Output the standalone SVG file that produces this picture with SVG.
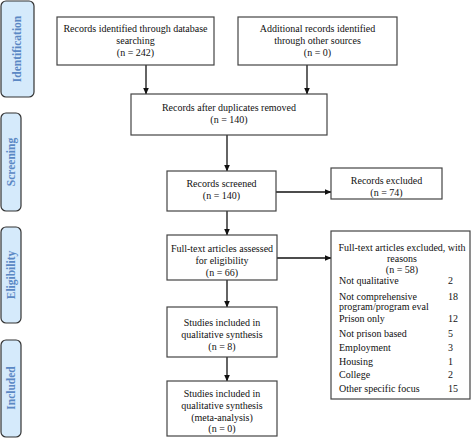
<svg xmlns="http://www.w3.org/2000/svg" width="473" height="446" viewBox="0 0 473 446">
<defs>
<marker id="ah" markerWidth="7" markerHeight="6" refX="6.5" refY="3" orient="auto" markerUnits="userSpaceOnUse">
<path d="M0,0 L7,3 L0,6 Z" fill="#111"/>
</marker>
<style>
.box{fill:#fff;stroke:#444;stroke-width:1.2}
.stage{fill:#d5eafb;stroke:#333;stroke-width:1.2}
.st{font-family:"Liberation Serif","Times New Roman",serif;font-weight:bold;font-size:11.5px;fill:#5b88c4;text-anchor:middle}
.t{font-family:"Liberation Serif","Times New Roman",serif;font-size:10px;fill:#111;text-anchor:middle}
.l{font-family:"Liberation Serif","Times New Roman",serif;font-size:10px;fill:#111}
.c{stroke:#111;stroke-width:1.3;fill:none;marker-end:url(#ah)}
</style>
</defs>
<rect width="473" height="446" fill="#fff"/>
<g id="stage-identification"><rect class="stage" x="1" y="1" width="33" height="96" rx="5"/><text class="st" transform="translate(21,49) rotate(-90)">Identification</text></g>
<g id="stage-screening"><rect class="stage" x="1" y="113" width="20" height="98" rx="5"/><text class="st" transform="translate(15,162) rotate(-90)">Screening</text></g>
<g id="stage-eligibility"><rect class="stage" x="1" y="227" width="20" height="96" rx="5"/><text class="st" transform="translate(15,275) rotate(-90)">Eligibility</text></g>
<g id="stage-included"><rect class="stage" x="1" y="340" width="20" height="97" rx="5"/><text class="st" transform="translate(15,388) rotate(-90)">Included</text></g>

<g id="connectors">
<line class="c" x1="146" y1="65" x2="146" y2="94"/>
<line class="c" x1="307" y1="65" x2="307" y2="94"/>
<line class="c" x1="227" y1="135" x2="227" y2="171"/>
<line class="c" x1="276" y1="192" x2="331" y2="192"/>
<line class="c" x1="227" y1="211" x2="227" y2="235"/>
<line class="c" x1="277" y1="258" x2="331" y2="258"/>
<line class="c" x1="227" y1="280" x2="227" y2="307"/>
<line class="c" x1="227" y1="357" x2="227" y2="381"/>
</g>

<g id="n1"><rect class="box" x="57" y="17" width="157" height="48"/>
<text class="t" x="135.5" y="32">Records identified through database</text>
<text class="t" x="135.5" y="44">searching</text>
<text class="t" x="135.5" y="56">(n =  242)</text></g>
<g id="n2"><rect class="box" x="238" y="17" width="159" height="48"/>
<text class="t" x="317.5" y="32">Additional records identified</text>
<text class="t" x="317.5" y="44">through other sources</text>
<text class="t" x="317.5" y="56">(n = 0)</text></g>
<g id="n3"><rect class="box" x="131" y="94" width="196" height="41"/>
<text class="t" x="229" y="111">Records after duplicates removed</text>
<text class="t" x="229" y="123">(n = 140)</text></g>
<g id="n4"><rect class="box" x="167" y="171" width="109" height="40"/>
<text class="t" x="221.5" y="187">Records screened</text>
<text class="t" x="221.5" y="199">(n = 140)</text></g>
<g id="n5"><rect class="box" x="331" y="168" width="111" height="31"/>
<text class="t" x="386.5" y="184">Records excluded</text>
<text class="t" x="386.5" y="196">(n = 74)</text></g>
<g id="n6"><rect class="box" x="167" y="235" width="110" height="45"/>
<text class="t" x="222" y="252">Full-text articles assessed</text>
<text class="t" x="222" y="264">for eligibility</text>
<text class="t" x="222" y="276">(n = 66)</text></g>
<g id="n7"><rect class="box" x="331" y="231" width="139" height="168"/>
<text class="t" x="402" y="251">Full-text articles excluded, with</text>
<text class="t" x="402" y="262">reasons</text>
<text class="t" x="402" y="273">(n = 58)</text>
<text class="l" x="339" y="284">Not qualitative</text><text class="l" x="448" y="284">2</text>
<text class="l" x="339" y="300">Not comprehensive</text><text class="l" x="448" y="300">18</text>
<text class="l" x="339" y="310">program/program eval</text>
<text class="l" x="339" y="322">Prison only</text><text class="l" x="448" y="322">12</text>
<text class="l" x="339" y="337">Not prison based</text><text class="l" x="448" y="337">5</text>
<text class="l" x="339" y="351">Employment</text><text class="l" x="448" y="351">3</text>
<text class="l" x="339" y="365">Housing</text><text class="l" x="448" y="365">1</text>
<text class="l" x="339" y="378">College</text><text class="l" x="448" y="378">2</text>
<text class="l" x="339" y="392">Other specific focus</text><text class="l" x="448" y="392">15</text></g>
<g id="n8"><rect class="box" x="167" y="307" width="110" height="50"/>
<text class="t" x="222" y="326">Studies included in</text>
<text class="t" x="222" y="338">qualitative synthesis</text>
<text class="t" x="222" y="350">(n = 8)</text></g>
<g id="n9"><rect class="box" x="167" y="381" width="110" height="55"/>
<text class="t" x="222" y="397">Studies included in</text>
<text class="t" x="222" y="409">qualitative synthesis</text>
<text class="t" x="222" y="421">(meta-analysis)</text>
<text class="t" x="222" y="432">(n = 0)</text></g>
</svg>
